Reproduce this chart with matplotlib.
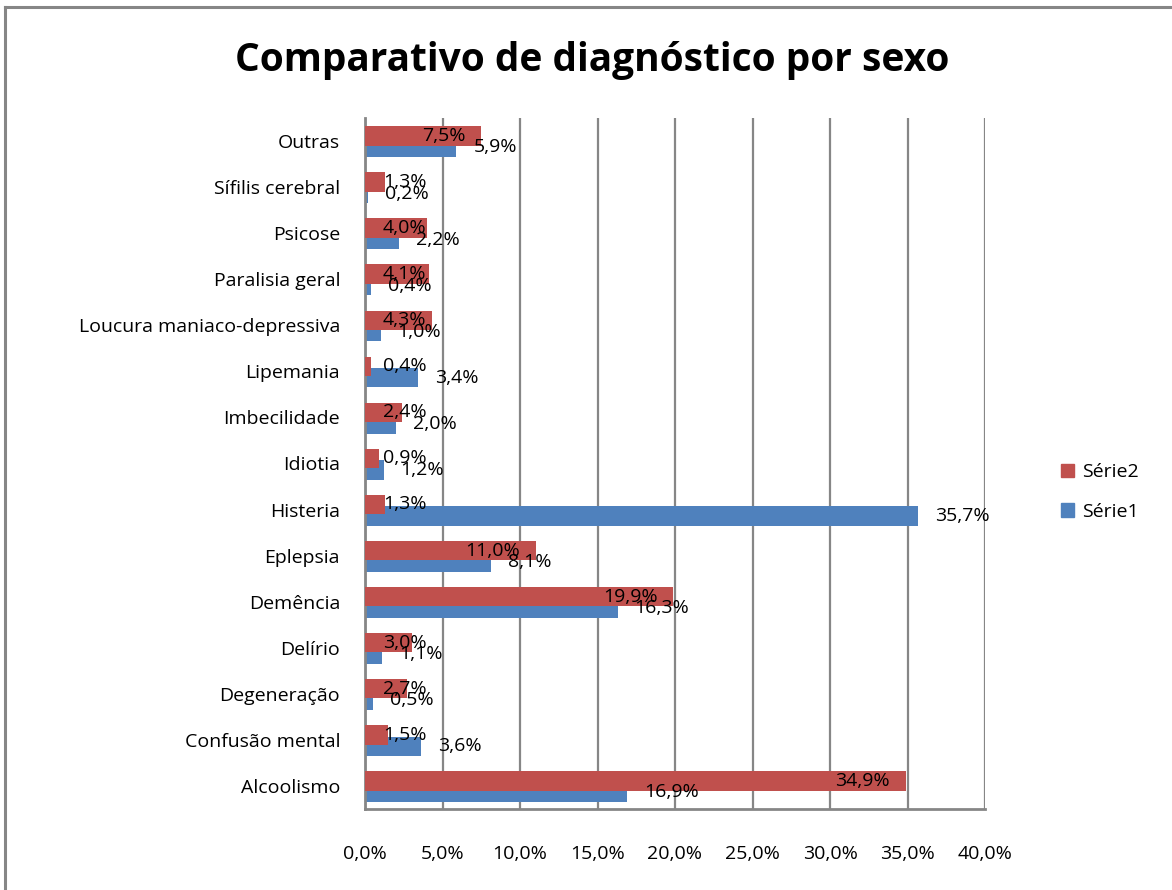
import matplotlib
matplotlib.use("Agg")
import matplotlib.pyplot as plt
from matplotlib.lines import Line2D
from matplotlib.patches import Patch
import numpy as np

categories = ["Alcoolismo", "Confusão mental", "Degeneração", "Delírio", "Demência",
              "Eplepsia", "Histeria", "Idiotia", "Imbecilidade", "Lipemania",
              "Loucura maniaco-depressiva", "Paralisia geral", "Psicose",
              "Sífilis cerebral", "Outras"]
serie1 = [16.9, 3.6, 0.5, 1.1, 16.3, 8.1, 35.7, 1.2, 2.0, 3.4, 1.0, 0.4, 2.2, 0.2, 5.9]
serie2 = [34.9, 1.5, 2.7, 3.0, 19.9, 11.0, 1.3, 0.9, 2.4, 0.4, 4.3, 4.1, 4.0, 1.3, 7.5]
xticks = [0, 5, 10, 15, 20, 25, 30, 35, 40]

FONT = "Open Sans"
BLUE = "#4F81BD"
RED = "#C0504D"
GRID = "#868686"
FS = 14

plt.rcParams["font.family"] = [FONT, "DejaVu Sans"]

fig = plt.figure(figsize=(11.72, 8.9), dpi=100)
ax = fig.add_axes([365 / 1172, 1 - 809 / 890, 620 / 1172, 691 / 890])

y = np.arange(len(categories))
h = 0.42
ax.barh(y - 0.14, serie1, height=h, color=BLUE, zorder=2, label="Série1")
ax.barh(y + 0.11, serie2, height=h, color=RED, zorder=3, label="Série2")

ax.set_xlim(0, 40)
ax.set_ylim(-0.5, len(categories) - 0.5)
ax.set_xticks(xticks)
ax.set_xticklabels([f"{t:.1f}%".replace(".", ",") for t in xticks])
ax.set_yticks(y)
ax.set_yticklabels(categories)
ax.tick_params(axis="x", length=0, pad=26, labelsize=FS)
ax.tick_params(axis="y", length=0, pad=18, labelsize=FS)
ax.xaxis.grid(True, color=GRID, linewidth=1.6, zorder=0)
ax.set_axisbelow(True)
for side in ("top", "right"):
    ax.spines[side].set_visible(False)
for side in ("left", "bottom"):
    ax.spines[side].set_color(GRID)
    ax.spines[side].set_linewidth(2)

px = 0.72  # points per pixel at 100 dpi


def fmt(v):
    return f"{v:.1f}%".replace(".", ",")


# value labels: Série1 just past the bar end, Série2 inside the bar end
for yi, v in zip(y, serie1):
    ax.annotate(fmt(v), (v, yi - 0.14), xytext=(17 * px, 0), textcoords="offset points",
                ha="left", va="center", fontsize=FS, zorder=5)

red_labels = []
for yi, v in zip(y, serie2):
    t = ax.annotate(fmt(v), (v, yi + 0.11), xytext=(-16 * px, 0), textcoords="offset points",
                    ha="right", va="center", fontsize=FS, zorder=5)
    red_labels.append((t, yi))

fig.canvas.draw()
renderer = fig.canvas.get_renderer()
x0_disp = ax.transData.transform((0, 0))[0]
for t, yi in red_labels:
    bb = t.get_window_extent(renderer)
    if bb.x0 < x0_disp + 18:
        t.xy = (0, yi + 0.11)
        t.set_position((18 * px, 0))
        t.set_ha("left")

fig.suptitle("Comparativo de diagnóstico por sexo", x=0.505, y=1 - 60 / 890,
             va="center", fontsize=28, fontweight="bold")

handles = [Patch(color=RED), Patch(color=BLUE)]
fig.legend(handles, ["Série2", "Série1"], loc="center left",
           bbox_to_anchor=(1043 / 1172, 1 - 492 / 890), frameon=False,
           fontsize=FS, handlelength=0.7, handleheight=0.7, handletextpad=0.4,
           labelspacing=1.1)

# outer frame lines along the top and left edges
fig.add_artist(Line2D([5 / 1172, 5 / 1172], [0, 1 - 7 / 890], transform=fig.transFigure,
                      color=GRID, linewidth=2.2))
fig.add_artist(Line2D([5 / 1172, 1], [1 - 7 / 890, 1 - 7 / 890], transform=fig.transFigure,
                      color=GRID, linewidth=2.2))

fig.savefig("out.png", dpi=100, facecolor="white")
